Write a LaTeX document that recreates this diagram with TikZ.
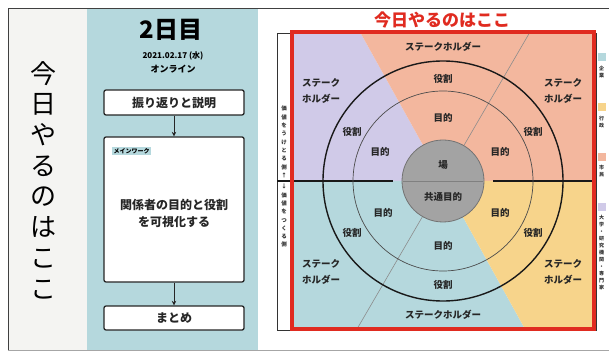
\documentclass[tikz,border=0pt]{standalone}
\usepackage{fontspec}
\setmainfont{Noto Sans CJK JP}
\usetikzlibrary{arrows.meta}
\definecolor{slidegray}{RGB}{244,244,242}
\definecolor{colteal}{RGB}{181,216,221}
\definecolor{colpurple}{RGB}{208,202,232}
\definecolor{colorange}{RGB}{243,183,158}
\definecolor{colyellow}{RGB}{247,212,139}
\definecolor{colgray}{RGB}{163,163,163}
\definecolor{colred}{RGB}{224,43,32}
\begin{document}
\begin{tikzpicture}[x=1pt,y=-1pt,
    stepbox/.style={draw=black!85,line width=1.3pt,rounded corners=2pt,fill=white,
      minimum width=140pt,inner sep=0pt},
    boxtext/.style={font=\bfseries\fontsize{12}{17}\selectfont,text=black!85,align=center},
    lbl/.style={font=\bfseries\fontsize{9.5}{16}\selectfont,text=black!85,align=center,inner sep=0pt},
    vtext/.style={font=\bfseries\fontsize{5.5}{8.3}\selectfont,text=black!80,align=center,inner sep=0pt},
    legtext/.style={font=\bfseries\fontsize{5}{7}\selectfont,text=black!80,align=center,inner sep=0pt}]
    \useasboundingbox (0,0) rectangle (609,352);
    %% Slide background
    \fill[white] (0,0) rectangle (609,352);
    \fill[slidegray] (8,8) rectangle (87,350);
    \fill[colteal] (87,8) rectangle (258,350);
    \draw[black!75,line width=0.8pt] (8,350) -- (8,8) -- (609,8);
    \draw[black!35,line width=1pt] (8,350) -- (609,350);
    %% Title
    \node[font=\fontsize{26}{30.7}\selectfont,align=center,inner sep=0pt] (title) at (43,180)
        {今\\日\\や\\る\\の\\は\\こ\\こ};
    %% Day column
    \node[font=\bfseries\fontsize{24}{24}\selectfont,inner sep=0pt] (day) at (171,30) {2日目};
    \node[font=\bfseries\fontsize{8}{9}\selectfont,inner sep=0pt] (date) at (173,56) {2021.02.17 (水)};
    \node[font=\bfseries\fontsize{9}{9}\selectfont,inner sep=0pt] (place) at (173,69) {オンライン};
    \node[stepbox,minimum height=25pt] (intro) at (174,102.5) {};
    \node[boxtext] (introtxt) at (intro.center) {振り返りと説明};
    \node[stepbox,minimum height=145pt] (work) at (174,209.5) {};
    \node[fill=colteal,font=\bfseries\fontsize{6}{7}\selectfont,inner sep=1.5pt,anchor=west] (tag)
        at (112,151) {メインワーク};
    \node[boxtext] (worktxt) at (174,213) {関係者の目的と役割\\を可視化する};
    \node[stepbox,minimum height=24pt] (wrap) at (174,318) {};
    \node[boxtext] (wraptxt) at (wrap.center) {まとめ};
    \draw[-{Stealth[length=4.5pt,width=4.5pt]},line width=1pt,black!85] (intro) -- (work);
    \draw[-{Stealth[length=4.5pt,width=4.5pt]},line width=1pt,black!85] (work) -- (wrap);
    %% Stakeholder map
    \coordinate (c) at (443,181);
    \fill[colpurple] (292,32) -- (360,32) -- (c) -- (292,181) -- cycle;
    \fill[colorange] (360,32) -- (594,32) -- (594,181) -- (c) -- cycle;
    \fill[colteal] (292,181) -- (c) -- (525,329) -- (292,329) -- cycle;
    \fill[colyellow] (c) -- (594,181) -- (594,329) -- (525,329) -- cycle;
    \draw[black!45,line width=0.6pt] (530,32) -- (357,329);
    \draw[black!80,line width=0.8pt] (277,33) rectangle (596,330);
    \draw[black!90,line width=1.3pt] (277,181) -- (393,181);
    \draw[black!90,line width=1.3pt] (493,181) -- (596,181);
    \draw[black!90,line width=1.4pt] (c) circle (120pt);
    \draw[black!70,line width=0.7pt] (c) circle (90pt);
    \draw[fill=colgray,draw=black!55,line width=0.8pt] (c) circle (41pt);
    \draw[black!50,line width=0.5pt] (403,181) -- (483,181);
    %% Ring labels
    \node[lbl] (shtop) at (443,47) {ステークホルダー};
    \node[lbl] (shul) at (321,91) {ステーク\\ホルダー};
    \node[lbl] (shur) at (563,91) {ステーク\\ホルダー};
    \node[lbl] (shll) at (321,272) {ステーク\\ホルダー};
    \node[lbl] (shlr) at (563,272) {ステーク\\ホルダー};
    \node[lbl] (shbot) at (443,315) {ステークホルダー};
    \node[lbl] (roletop) at (443,79) {役割};
    \node[lbl] (roleul) at (352,132) {役割};
    \node[lbl] (roleur) at (533,132) {役割};
    \node[lbl] (rolell) at (352,233) {役割};
    \node[lbl] (rolelr) at (533,233) {役割};
    \node[lbl] (rolebot) at (443,285) {役割};
    \node[lbl] (goaltop) at (443,118) {目的};
    \node[lbl] (goalul) at (380,152) {目的};
    \node[lbl] (goalur) at (500,152) {目的};
    \node[lbl] (goalll) at (383,213) {目的};
    \node[lbl] (goallr) at (500,213) {目的};
    \node[lbl] (goalbot) at (443,246) {目的};
    \node[lbl] (place) at (443,165) {場};
    \node[lbl] (common) at (443,197) {共通目的};
    %% Side labels
    \node[vtext,anchor=south] (receive) at (284,178) {価\\値\\を\\う\\け\\と\\る\\側\\↑};
    \node[vtext,anchor=north] (create) at (284,184) {↓\\価\\値\\を\\つ\\く\\る\\側};
    %% Focus frame
    \draw[colred,line width=4pt] (292,32) rectangle (594,329);
    \node[font=\bfseries\fontsize{17}{17}\selectfont,text=colred,inner sep=0pt] (focus) at (442,20)
        {今日やるのはここ};
    %% Legend
    \fill[colteal] (597.5,53.5) rectangle (605.5,61.5);
    \node[legtext,anchor=north] (legcorp) at (601.5,66) {企\\業};
    \fill[colyellow] (597.5,103.5) rectangle (605.5,111.5);
    \node[legtext,anchor=north] (leggov) at (601.5,116) {行\\政};
    \fill[colorange] (597.5,153.5) rectangle (605.5,161.5);
    \node[legtext,anchor=north] (legcit) at (601.5,165) {市\\民};
    \fill[colpurple] (597.5,203.5) rectangle (605.5,211.5);
    \node[legtext,anchor=north] (leguni) at (601.5,215) {大\\学\\・\\研\\究\\機\\関\\・\\専\\門\\家};
\end{tikzpicture}
\end{document}
